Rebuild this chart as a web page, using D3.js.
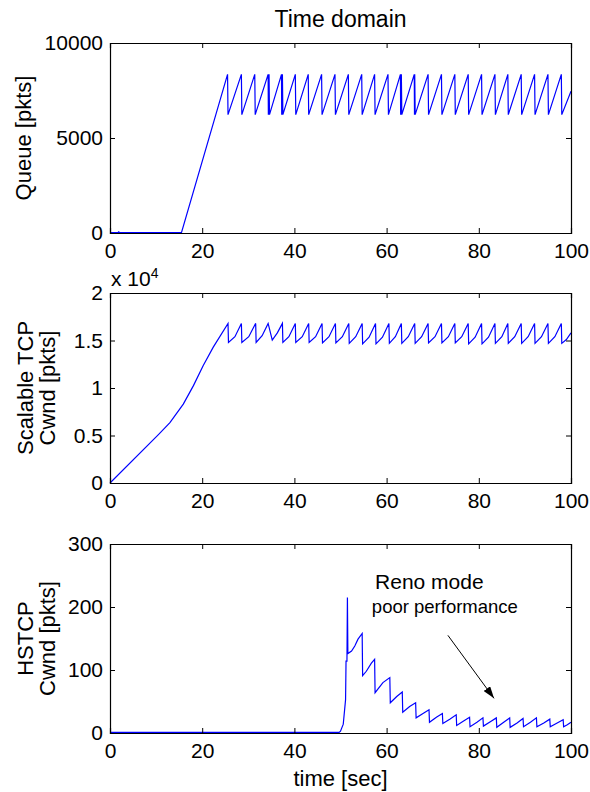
<!DOCTYPE html>
<html>
<head>
<meta charset="utf-8">
<script src="https://cdn.jsdelivr.net/npm/d3@7"></script>
<style>
  html, body { margin: 0; padding: 0; background: #fff; }
  svg { display: block; }
  text { font-family: "Liberation Sans", Arial, sans-serif; fill: #000; }
</style>
</head>
<body>
<svg id="chart" width="590" height="792"></svg>
<script>
// ---------------- DATA ----------------
const timeTicks = [0, 20, 40, 60, 80, 100];
const timeTickLabels = ["0", "20", "40", "60", "80", "100"];

const queueTicks = [0, 5000, 10000];
const queueTickLabels = ["0", "5000", "10000"];

const scalableTicks = [0, 5000, 10000, 15000, 20000];
const scalableTickLabels = ["0", "0.5", "1", "1.5", "2"];

const hstcpTicks = [0, 100, 200, 300];
const hstcpTickLabels = ["0", "100", "200", "300"];

// Queue [pkts] vs time [sec]
const queueSeries = [
  [0, 20], [1.7, 20], [1.9, 60], [2.1, 20], [15.5, 20],
  [25.5, 8350], [25.6, 6230],
  [28.5, 8350], [28.6, 6230],
  [31.4, 8350], [31.5, 6230],
  [34.3, 8350], [34.35, 6230], [34.5, 8350], [34.6, 6230],
  [37.2, 8350], [37.25, 6230], [37.4, 8350], [37.5, 6230],
  [40.2, 8350], [40.3, 6230],
  [43.0, 8350], [43.1, 6230],
  [45.9, 8350], [46.0, 6230],
  [48.8, 8350], [48.9, 6230],
  [51.7, 8350], [51.8, 6230],
  [54.6, 8350], [54.7, 6230],
  [57.4, 8350], [57.5, 6230],
  [60.3, 8350], [60.4, 6230],
  [63.0, 8350], [63.05, 6230], [63.2, 8350], [63.3, 6230],
  [66.0, 8350], [66.05, 6230], [66.1, 8350], [66.2, 6230],
  [69.0, 8350], [69.1, 6230],
  [71.9, 8350], [72.0, 6230],
  [74.8, 8350], [74.9, 6230],
  [77.7, 8350], [77.8, 6230],
  [80.6, 8350], [80.7, 6230],
  [83.5, 8350], [83.6, 6230],
  [86.3, 8350], [86.4, 6230],
  [89.2, 8350], [89.3, 6230],
  [92.1, 8350], [92.2, 6230],
  [95.0, 8350], [95.1, 6230],
  [97.9, 8350], [98.0, 6230],
  [100, 7460]
];

// Scalable TCP Cwnd [pkts]
const scalableSeries = [
  [0, 0], [10.5, 5100], [13.0, 6350], [15.9, 8300], [18.1, 10250],
  [20.2, 12350], [22.4, 14300], [25.6, 16800],
  [25.7, 14800], [27.1, 15400], [28.5, 16800],
  [28.6, 14800], [30.1, 15400], [31.6, 16800],
  [31.7, 14800], [33.0, 15500], [34.3, 16800],
  [35.2, 15050], [36.3, 15800], [37.4, 16800],
  [37.5, 14800], [38.8, 15400], [40.2, 16800],
  [40.3, 14800], [41.7, 15400], [43.1, 16800],
  [43.2, 14800], [44.6, 15400], [46.0, 16800],
  [46.1, 14750], [47.5, 15400], [48.9, 16800],
  [49.0, 14750], [50.4, 15400], [51.8, 16800],
  [51.9, 14700], [53.3, 15400], [54.7, 16800],
  [54.8, 14650], [56.2, 15350], [57.6, 16800],
  [57.7, 14650], [59.1, 15350], [60.5, 16800],
  [60.6, 14700], [61.9, 15400], [63.2, 16800],
  [63.3, 14700], [64.7, 15400], [66.1, 16800],
  [66.2, 14700], [67.6, 15400], [69.0, 16800],
  [69.1, 14750], [70.5, 15400], [71.9, 16800],
  [72.0, 14750], [73.4, 15400], [74.8, 16800],
  [74.9, 14750], [76.3, 15400], [77.7, 16800],
  [77.8, 14650], [79.2, 15350], [80.6, 16800],
  [80.7, 14650], [82.1, 15350], [83.5, 16800],
  [83.6, 14700], [85.0, 15400], [86.3, 16800],
  [86.4, 14700], [87.8, 15400], [89.2, 16800],
  [89.3, 14700], [90.7, 15400], [92.1, 16800],
  [92.2, 14700], [93.6, 15400], [95.0, 16800],
  [95.1, 14700], [96.5, 15400], [97.9, 16800],
  [98.0, 14700], [99.0, 15100], [100, 15800]
];

// HSTCP Cwnd [pkts]
const hstcpSeries = [
  [0, 1], [49.7, 1], [50.0, 3], [50.6, 14], [51.1, 53], [51.2, 114], [51.4, 114],
  [51.5, 215], [51.6, 126], [52.4, 130], [53.1, 138], [53.8, 149], [54.7, 158],
  [54.8, 91], [55.6, 98], [56.7, 111], [57.4, 117],
  [57.5, 64], [59.2, 80], [60.7, 88],
  [60.8, 48], [62.2, 58], [63.4, 65],
  [63.5, 33], [65.0, 42], [66.3, 48],
  [66.4, 24], [67.9, 31], [69.2, 37],
  [69.3, 17], [70.8, 25], [72.1, 31],
  [72.2, 15], [73.7, 22], [75.1, 29],
  [75.2, 12], [76.7, 19], [78.0, 25],
  [78.1, 10], [79.6, 17], [80.9, 24],
  [81.0, 11], [82.5, 18], [83.8, 24],
  [83.9, 9], [85.4, 17], [86.7, 24],
  [86.8, 9], [88.3, 16], [89.6, 23],
  [89.7, 10], [91.2, 17], [92.5, 24],
  [92.6, 10], [94.1, 16], [95.4, 22],
  [95.5, 10], [97.0, 16], [98.3, 21],
  [98.4, 10], [99.2, 13], [100, 17]
];

// Annotation (data coordinates of the HSTCP panel)
const annotationLines = [
  { text: "Reno mode", x: 57.5, y: 229 },
  { text: "poor performance", x: 56.8, y: 191 }
];
const annotationArrow = { from: [73.3, 155], to: [83.3, 55] };

// ---------------- LAYOUT ----------------
const svg = d3.select("#chart");
const left = 110, right = 571;
const panels = [
  { top: 43, bottom: 233, series: queueSeries, domain: [0, 10000], ticks: queueTicks, labels: queueTickLabels, ylabel: ["Queue [pkts]"] },
  { top: 293, bottom: 483, series: scalableSeries, domain: [0, 20000], ticks: scalableTicks, labels: scalableTickLabels, ylabel: ["Scalable TCP", "Cwnd [pkts]"] },
  { top: 544, bottom: 733, series: hstcpSeries, domain: [0, 300], ticks: hstcpTicks, labels: hstcpTickLabels, ylabel: ["HSTCP", "Cwnd [pkts]"] }
];

const x = d3.scaleLinear().domain([0, 100]).range([left, right]);
const FONT_TICK = 21, FONT_LABEL = 22;

defs = svg.append("defs");
defs.append("marker")
  .attr("id", "arrowhead")
  .attr("viewBox", "0 0 12 8")
  .attr("refX", 12).attr("refY", 4)
  .attr("markerWidth", 12).attr("markerHeight", 8)
  .attr("markerUnits", "userSpaceOnUse")
  .attr("orient", "auto")
  .append("path").attr("d", "M0,0 L12,4 L0,8 Z").attr("fill", "#000");

panels.forEach((p, i) => {
  const y = d3.scaleLinear().domain(p.domain).range([p.bottom, p.top]);
  p.y = y;
  const g = svg.append("g");

  // data line
  const line = d3.line().x(d => x(d[0])).y(d => y(d[1]));
  g.append("path").datum(p.series)
    .attr("d", line)
    .attr("fill", "none")
    .attr("stroke", "#0000ff")
    .attr("stroke-width", 1.2)
    .attr("stroke-linejoin", "miter");

  // axes
  const xb = d3.axisBottom(x).tickValues(timeTicks).tickSize(-5).tickPadding(10)
    .tickFormat((d, k) => timeTickLabels[k]);
  const xt = d3.axisTop(x).tickValues(timeTicks).tickSize(-5).tickFormat("");
  const yl = d3.axisLeft(y).tickValues(p.ticks).tickSize(-5).tickPadding(7)
    .tickFormat((d, k) => p.labels[k]);
  const yr = d3.axisRight(y).tickValues(p.ticks).tickSize(-5).tickFormat("");

  const axes = [
    g.append("g").attr("transform", `translate(0,${p.bottom})`).call(xb),
    g.append("g").attr("transform", `translate(0,${p.top})`).call(xt),
    g.append("g").attr("transform", `translate(${left},0)`).call(yl),
    g.append("g").attr("transform", `translate(${right},0)`).call(yr)
  ];
  axes.forEach(a => {
    a.select(".domain").attr("stroke", "#000").attr("stroke-width", 1.2);
    a.selectAll(".tick line").attr("stroke", "#000").attr("stroke-width", 1);
    a.selectAll("text").attr("font-size", FONT_TICK).attr("font-family", '"Liberation Sans", Arial, sans-serif').attr("fill", "#000");
  });

  // y labels (rotated)
  const cy = (p.top + p.bottom) / 2;
  const baseX = p.ylabel.length === 1 ? [31] : [33, 55];
  p.ylabel.forEach((t, k) => {
    svg.append("text")
      .attr("transform", `translate(${baseX[k]},${cy}) rotate(-90)`)
      .attr("text-anchor", "middle")
      .attr("font-size", FONT_LABEL)
      .text(t);
  });
});

// exponent on middle panel
const expo = svg.append("text").attr("x", 111).attr("y", 286).attr("font-size", FONT_TICK);
expo.append("tspan").text("x 10");
expo.append("tspan").attr("dy", -8).attr("font-size", 14).text("4");

// title and x label
svg.append("text").attr("x", (left + right) / 2).attr("y", 27)
  .attr("text-anchor", "middle").attr("font-size", 23).text("Time domain");
svg.append("text").attr("x", (left + right) / 2).attr("y", 786)
  .attr("text-anchor", "middle").attr("font-size", FONT_LABEL).text("time [sec]");

// annotation in bottom panel
const yb = panels[2].y;
svg.append("text").attr("x", x(annotationLines[0].x)).attr("y", yb(annotationLines[0].y))
  .attr("font-size", 21).text(annotationLines[0].text);
svg.append("text").attr("x", x(annotationLines[1].x)).attr("y", yb(annotationLines[1].y))
  .attr("font-size", 18.5).text(annotationLines[1].text);
svg.append("line")
  .attr("x1", x(annotationArrow.from[0])).attr("y1", yb(annotationArrow.from[1]))
  .attr("x2", x(annotationArrow.to[0])).attr("y2", yb(annotationArrow.to[1]))
  .attr("stroke", "#000").attr("stroke-width", 1)
  .attr("marker-end", "url(#arrowhead)");
</script>
</body>
</html>
